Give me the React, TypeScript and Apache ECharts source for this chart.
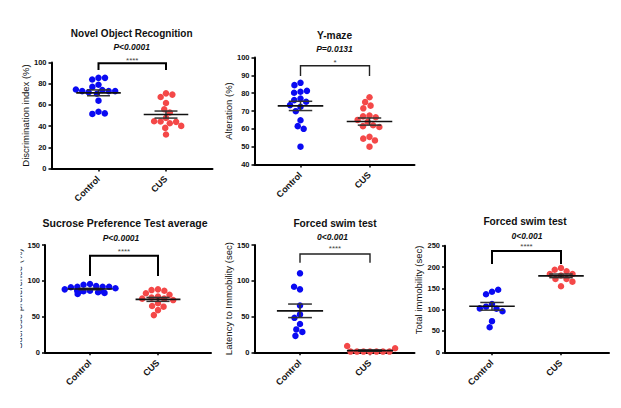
import React, { useEffect, useRef } from 'react';
import * as echarts from 'echarts';

// ---------- data ----------
const groups = ['Control', 'CUS'];

const norControl = [85.5, 84, 85.5, 79, 77, 74, 73, 72, 73, 73, 74.5, 70.5, 64, 53.5, 51.5, 52];
const norCus = [70.9, 67.4, 69.7, 61.8, 55.9, 52.8, 47.7, 44.3, 42.7, 44, 44.6, 40.2, 38.3, 32.1];

const ymControl = [85.8, 84.5, 80.8, 80.2, 81.3, 77, 76.1, 75.2, 72.4, 73.3, 69.9, 64.8, 61.5, 60, 50];
const ymCus = [77.7, 75, 73, 71.5, 67.5, 67, 66.5, 65, 64, 62, 61.5, 61, 55.5, 54.5, 53.5, 50];

const spControl = [95.5, 94.5, 92.7, 91.7, 91.7, 91.7, 91, 89.5, 88, 86.1, 86, 86, 85.4, 84.7, 84, 83, 81.5];
const spCus = [88, 87, 86, 82.5, 80.5, 77.8, 76.4, 75, 75, 73, 68.5, 64.7, 63.8, 59, 52];

const latControl = [110.4, 88, 91.7, 65.5, 53, 48.2, 39.5, 32, 28.5, 23];
const latCus = [1, 1, 1, 1, 1, 1, 1, 8.8, 5.6];

const totControl = [142, 136, 146.8, 113.3, 107, 102.3, 96.4, 103, 73, 58.8];
const totCus = [197.7, 193.7, 190, 183.6, 183.6, 180, 172, 171.9, 165.6, 154.8];

const titles = ['Novel Object Recognition', 'Y-maze', 'Sucrose Preference Test average', 'Forced swim test', 'Forced swim test'];
const pTexts = ['P<0.0001', 'P=0.0131', 'P<0.0001', '0<0.001', '0<0.001'];
const starTexts = ['****', '*', '****', '****', '****'];
const yNames = ['Discrimination index (%)', 'Alteration (%)', 'Sucrose preference (%)', 'Latency to Immobility (sec)', 'Total immobility (sec)'];
const yMins = [0, 40, 0, 0, 0];
const yMaxs = [100, 100, 150, 150, 250];
const yIntervals = [20, 10, 50, 50, 50];
const bracketTops = [99.3, 95.4, 135, 137.4, 237.5];
const bracketLegs = [93, 89.6, 106.7, 125.3, 207];
const controlSets = [norControl, ymControl, spControl, latControl, totControl];
const cusSets = [norCus, ymCus, spCus, latCus, totCus];

// ---------- layout / style (not data) ----------
const FONT = 'Arial, "Liberation Sans", Helvetica, sans-serif';
const layouts = [
  { frame: [51.5, 62.5, 161, 106], dataLeft: 64.75, dataWidth: 135, nameGap: 20.5, namePad: 0, title: [131.7, 33.3], sub: [131.7, 46.7], titleSize: 10, starGap: 3, bw: 2 },
  { frame: [254.5, 57.5, 160, 107], dataLeft: 266, dataWidth: 138, nameGap: 17.5, namePad: 0, title: [334.5, 35], sub: [334.5, 49], titleSize: 10.2, starGap: 3.5, bw: 1.4 },
  { frame: [45, 245, 166, 107.3], dataLeft: 56, dataWidth: 136, nameGap: 19, namePad: 0, title: [125, 223.3], sub: [121, 238.3], titleSize: 10.5, starGap: 4.5, bw: 2 },
  { frame: [254.5, 245, 160, 107.3], dataLeft: 265, dataWidth: 140, nameGap: 19, namePad: 0, title: [335, 223.3], sub: [332.5, 237.3], titleSize: 10.2, starGap: 6, bw: 1.4 },
  { frame: [445, 245.7, 164, 106.6], dataLeft: 457.5, dataWidth: 138, nameGap: 18, namePad: 18, title: [525, 221.7], sub: [527, 236], titleSize: 10.2, starGap: 5, bw: 2 },
];

function meanSem(v: number[]): [number, number] {
  const n = v.length;
  const m = v.reduce((a, b) => a + b, 0) / n;
  const sd = Math.sqrt(v.reduce((a, b) => a + (b - m) * (b - m), 0) / (n - 1));
  return [m, sd / Math.sqrt(n)];
}

function buildOption() {
  const grid: any[] = [];
  const xAxis: any[] = [];
  const yAxis: any[] = [];
  const series: any[] = [];
  const graphic: any[] = [];

  layouts.forEach((L, i) => {
    const gA = i * 2;
    const gB = i * 2 + 1;
    const [fl, ft, fw, fh] = L.frame;
    grid.push({ left: fl, top: ft, width: fw, height: fh });
    grid.push({ left: L.dataLeft, top: ft, width: L.dataWidth, height: fh });

    xAxis.push({
      type: 'value', gridIndex: gA, min: 0, max: 1,
      axisLine: { show: true, onZero: false, lineStyle: { color: '#000', width: 2 } },
      axisTick: { show: false }, axisLabel: { show: false }, splitLine: { show: false },
    });
    xAxis.push({
      type: 'category', gridIndex: gB, data: groups,
      axisLine: { show: false },
      axisTick: { show: true, alignWithLabel: true, length: 3, lineStyle: { color: '#000', width: 1.5 } },
      axisLabel: { rotate: 45, margin: 9, fontSize: 9, fontWeight: 'bold', color: '#111', fontFamily: FONT },
      splitLine: { show: false },
      jitter: 60, jitterOverlap: false, jitterMargin: 0,
    });
    yAxis.push({
      type: 'value', gridIndex: gA, min: yMins[i], max: yMaxs[i], interval: yIntervals[i],
      axisLine: { show: true, onZero: false, lineStyle: { color: '#000', width: 2 } },
      axisTick: { show: true, length: 3, lineStyle: { color: '#000', width: 1.5 } },
      axisLabel: { fontSize: 7.5, fontWeight: 'bold', color: '#111', margin: 5, fontFamily: FONT },
      splitLine: { show: false },
      name: yNames[i], nameLocation: 'middle', nameGap: L.nameGap,
      nameTextStyle: { fontSize: 9.5, color: '#111', fontFamily: FONT, padding: [0, 0, 0, L.namePad] },
    });
    yAxis.push({ type: 'value', gridIndex: gB, min: yMins[i], max: yMaxs[i], show: false });

    series.push({
      type: 'scatter', xAxisIndex: gB, yAxisIndex: gB, symbolSize: 6.5, z: 2,
      itemStyle: { color: '#0a0af2', opacity: 1 },
      data: controlSets[i].map((v) => [groups[0], v]),
    });
    series.push({
      type: 'scatter', xAxisIndex: gB, yAxisIndex: gB, symbolSize: 6.5, z: 2,
      itemStyle: { color: '#f44848', opacity: 1 },
      data: cusSets[i].map((v) => [groups[1], v]),
    });

    const stats = [controlSets[i], cusSets[i]].map((v, k) => {
      const [m, s] = meanSem(v);
      return [k, m, s];
    });
    series.push({
      type: 'custom', xAxisIndex: gB, yAxisIndex: gB, z: 5,
      encode: { x: 0, y: 1 },
      data: stats,
      renderItem: (params: any, api: any) => {
        const x = api.value(0);
        const m = api.value(1);
        const s = api.value(2);
        const c = api.coord([x, m]);
        const hi = api.coord([x, m + s]);
        const lo = api.coord([x, m - s]);
        const band = api.size([1, 0])[0];
        const wm = band * 0.33;
        const ws = band * 0.17;
        const semStyle = { stroke: '#333', lineWidth: 1.5 };
        return {
          type: 'group',
          children: [
            { type: 'line', shape: { x1: c[0], y1: hi[1], x2: c[0], y2: lo[1] }, style: semStyle },
            { type: 'line', shape: { x1: c[0] - ws, y1: hi[1], x2: c[0] + ws, y2: hi[1] }, style: semStyle },
            { type: 'line', shape: { x1: c[0] - ws, y1: lo[1], x2: c[0] + ws, y2: lo[1] }, style: semStyle },
            { type: 'line', shape: { x1: c[0] - wm, y1: c[1], x2: c[0] + wm, y2: c[1] }, style: { stroke: '#111', lineWidth: 1.6 } },
          ],
        };
      },
    });

    const stars = starTexts[i];
    series.push({
      type: 'custom', xAxisIndex: gB, yAxisIndex: gB, z: 4,
      encode: { x: 0, y: 1 },
      data: [[0, bracketTops[i], bracketLegs[i]]],
      renderItem: (params: any, api: any) => {
        const top = api.value(1);
        const leg = api.value(2);
        const a = api.coord([0, top]);
        const b = api.coord([1, top]);
        const la = api.coord([0, leg]);
        const lb = api.coord([1, leg]);
        return {
          type: 'group',
          children: [
            {
              type: 'polyline',
              shape: { points: [la, a, b, lb] },
              style: { stroke: L.bw > 1.5 ? '#000' : '#222', lineWidth: L.bw, fill: null },
            },
            {
              type: 'text',
              style: {
                text: stars, x: (a[0] + b[0]) / 2, y: a[1] - L.starGap,
                align: 'center', textAlign: 'center', verticalAlign: 'middle', textVerticalAlign: 'middle',
                fontSize: 8, fontFamily: FONT, fill: '#444',
              },
            },
          ],
        };
      },
    });

    graphic.push({
      type: 'text', x: L.title[0], y: L.title[1], z: 10,
      style: {
        text: titles[i], align: 'center', textAlign: 'center', verticalAlign: 'middle', textVerticalAlign: 'middle',
        fontSize: L.titleSize, fontWeight: 'bold', fontFamily: FONT, fill: '#111',
      },
    });
    graphic.push({
      type: 'text', x: L.sub[0], y: L.sub[1], z: 10,
      style: {
        text: pTexts[i], align: 'center', textAlign: 'center', verticalAlign: 'middle', textVerticalAlign: 'middle',
        fontSize: 8.5, fontWeight: 'bold', fontStyle: 'italic', fontFamily: FONT, fill: '#111',
      },
    });
  });

  // the reference crops the left part of the sucrose-preference axis title
  graphic.push({ type: 'rect', z: 100, shape: { x: 0, y: 238, width: 20.5, height: 118 }, style: { fill: '#fff' } });

  return {
    animation: false,
    backgroundColor: '#fff',
    grid, xAxis, yAxis, series, graphic,
  };
}

export default function App() {
  const ref = useRef<HTMLDivElement>(null);
  useEffect(() => {
    if (!ref.current) return;
    const chart = echarts.init(ref.current, undefined, { renderer: 'svg' });
    chart.setOption(buildOption() as any);
    return () => chart.dispose();
  }, []);
  return (
    <div
      ref={ref}
      style={{ position: 'fixed', left: 0, top: 0, width: 621, height: 408, background: '#fff' }}
    />
  );
}
